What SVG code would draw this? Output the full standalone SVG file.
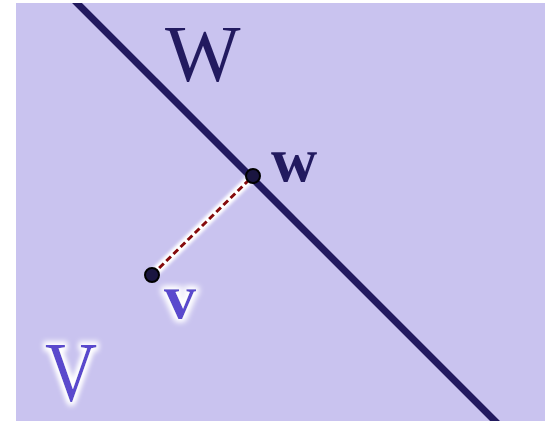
<svg xmlns="http://www.w3.org/2000/svg" width="551" height="421" viewBox="0 0 551 421">
  <defs>
    <style>
      .serif { font-family: "Liberation Serif", "Times New Roman", serif; }
      .dark { fill: #221a5f; }
      .light { fill: #5a4acd; }
      .pt { fill: #1a1540; stroke: #000; stroke-width: 2; }
    </style>
    <clipPath id="clip"><rect x="16" y="3" width="529" height="418"/></clipPath>
    <filter id="glow" x="-30%" y="-30%" width="160%" height="160%">
      <feMorphology in="SourceAlpha" operator="dilate" radius="2" result="d"/>
      <feGaussianBlur in="d" stdDeviation="3" result="b"/>
      <feFlood flood-color="#ffffff"/>
      <feComposite in2="b" operator="in" result="w"/>
      <feMerge><feMergeNode in="w"/><feMergeNode in="w"/><feMergeNode in="SourceGraphic"/></feMerge>
    </filter>
    <filter id="lineglow" x="-20%" y="-20%" width="140%" height="140%">
      <feGaussianBlur stdDeviation="1.8"/>
    </filter>
  </defs>
  <rect id="background" x="16" y="3" width="529" height="418" fill="#c9c3ef"/>
  <g id="connectors" clip-path="url(#clip)">
    <line id="subspace-W" x1="54" y1="-20" x2="517" y2="443" stroke="#221a5f" stroke-width="7"/>
    <line x1="152" y1="275" x2="253" y2="176" stroke="#ffffff" stroke-width="9" filter="url(#lineglow)"/>
    <line x1="152" y1="275" x2="253" y2="176" stroke="#ffffff" stroke-width="5"/>
    <line id="projection" x1="152" y1="275" x2="253" y2="176" stroke="#850a0c" stroke-width="3" stroke-dasharray="6.5,3.5"/>
  </g>
  <g id="label-W"><text class="serif dark" x="165" y="81" font-size="80">W</text></g>
  <g id="label-V"><text class="serif light" font-size="84" filter="url(#glow)" transform="translate(45,401) scale(0.86,1)">V</text></g>
  <g id="node-w">
    <circle class="pt" cx="253" cy="176" r="7"/>
    <text class="serif dark" x="271" y="181" font-size="64" font-weight="bold">w</text>
  </g>
  <g id="node-v">
    <circle class="pt" cx="152" cy="275" r="7"/>
    <text class="serif light" x="164" y="318" font-size="64" font-weight="bold" filter="url(#glow)">v</text>
  </g>
</svg>
